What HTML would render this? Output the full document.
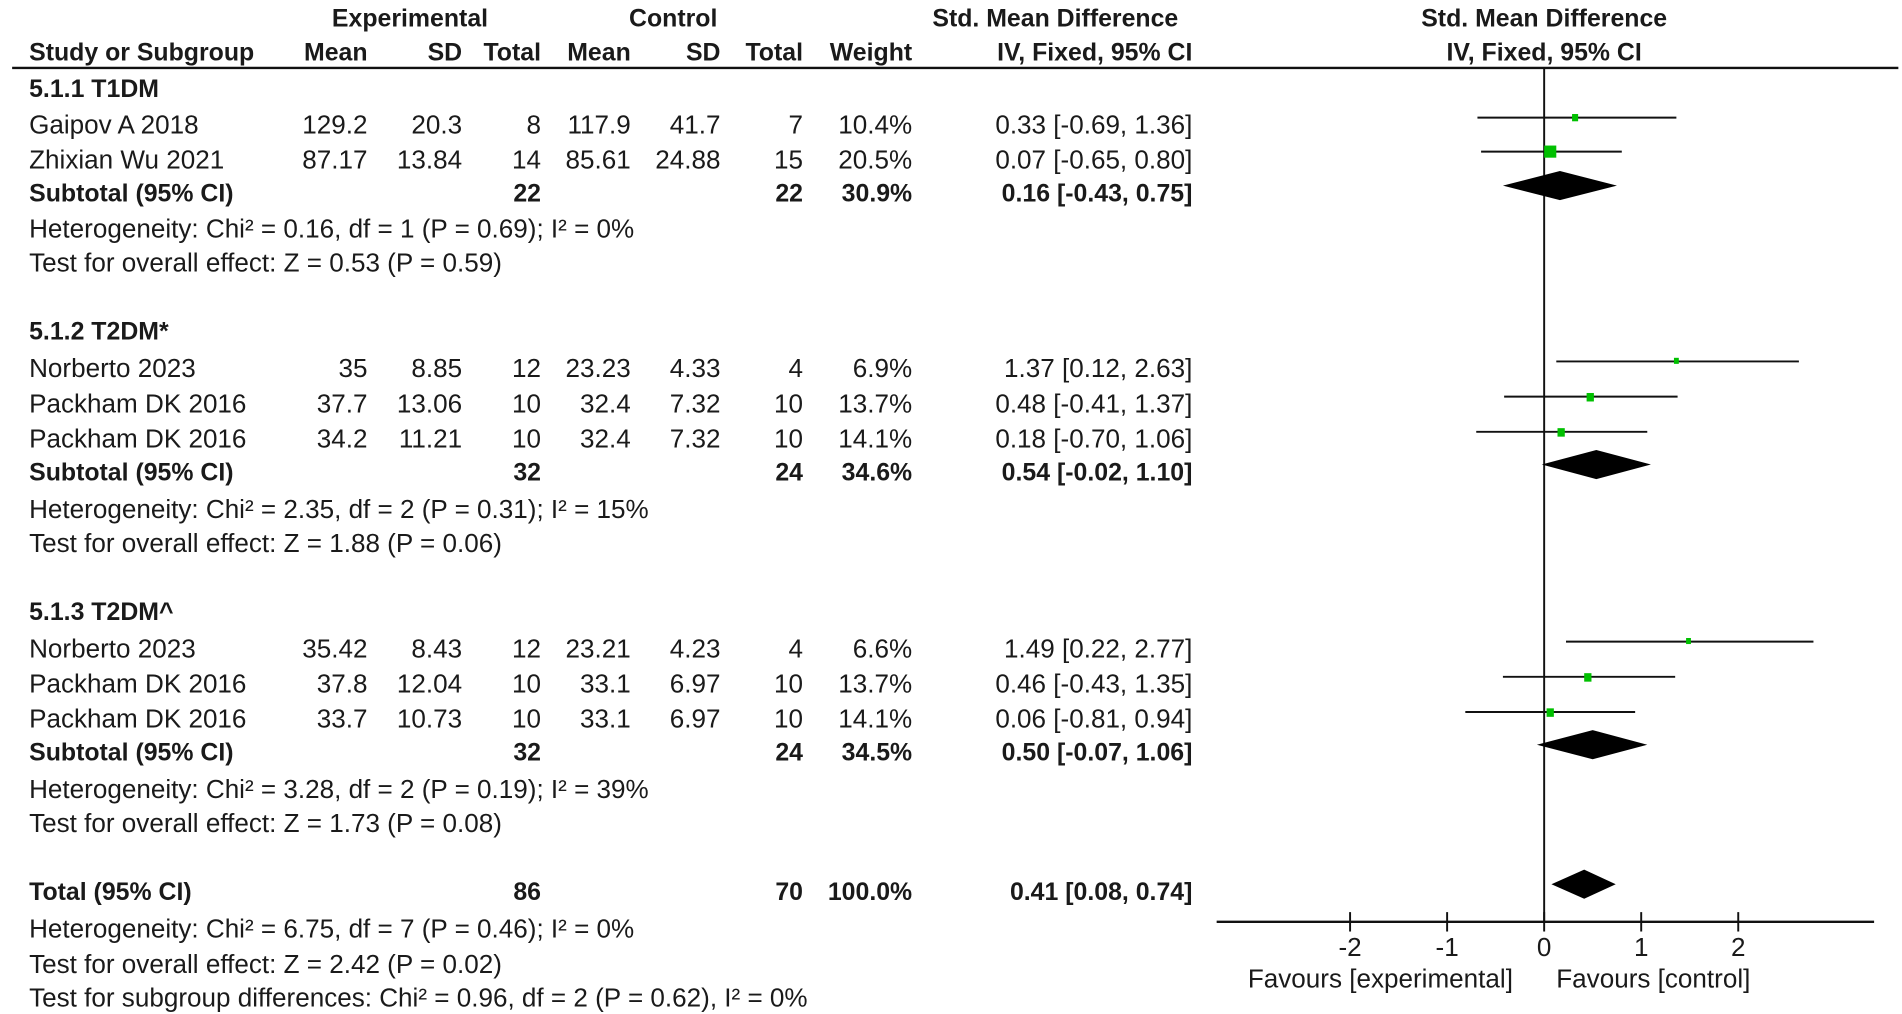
<!DOCTYPE html>
<html><head><meta charset="utf-8"><style>
html,body{margin:0;padding:0;background:#fff;}
svg{display:block;}
text{font-family:"Liberation Sans",Arial,sans-serif;font-size:21.5px;fill:#1a1a1a;}
.b{font-weight:bold;font-size:20.5px;}
.e{text-anchor:end;}
.m{text-anchor:middle;}
</style></head><body>
<svg width="1902" height="1014" viewBox="0 0 1568 836" preserveAspectRatio="none" xmlns="http://www.w3.org/2000/svg">
<rect width="1568" height="836" fill="#fff"/>
<g transform="translate(0,1)">
<text class="b m" x="338" y="21">Experimental</text>
<text class="b m" x="555" y="21">Control</text>
<text class="b m" x="870" y="21">Std. Mean Difference</text>
<text class="b m" x="1273" y="21">Std. Mean Difference</text>
<text class="b" x="24" y="49">Study or Subgroup</text>
<text class="b e" x="303" y="49">Mean</text>
<text class="b e" x="381" y="49">SD</text>
<text class="b e" x="446" y="49">Total</text>
<text class="b e" x="520" y="49">Mean</text>
<text class="b e" x="594" y="49">SD</text>
<text class="b e" x="662" y="49">Total</text>
<text class="b e" x="752" y="49">Weight</text>
<text class="b e" x="983" y="49">IV, Fixed, 95% CI</text>
<text class="b m" x="1273" y="49">IV, Fixed, 95% CI</text>

<text class="b" x="24" y="79">5.1.1 T1DM</text>
<text x="24" y="109">Gaipov A 2018</text><text class="e" x="303" y="109">129.2</text><text class="e" x="381" y="109">20.3</text><text class="e" x="446" y="109">8</text><text class="e" x="520" y="109">117.9</text><text class="e" x="594" y="109">41.7</text><text class="e" x="662" y="109">7</text><text class="e" x="752" y="109">10.4%</text><text class="e" x="983" y="109">0.33 [-0.69, 1.36]</text>
<text x="24" y="138">Zhixian Wu 2021</text><text class="e" x="303" y="138">87.17</text><text class="e" x="381" y="138">13.84</text><text class="e" x="446" y="138">14</text><text class="e" x="520" y="138">85.61</text><text class="e" x="594" y="138">24.88</text><text class="e" x="662" y="138">15</text><text class="e" x="752" y="138">20.5%</text><text class="e" x="983" y="138">0.07 [-0.65, 0.80]</text>
<text class="b" x="24" y="165">Subtotal (95% CI)</text><text class="b e" x="446" y="165">22</text><text class="b e" x="662" y="165">22</text><text class="b e" x="752" y="165">30.9%</text><text class="b e" x="983" y="165">0.16 [-0.43, 0.75]</text>
<text x="24" y="195">Heterogeneity: Chi² = 0.16, df = 1 (P = 0.69); I² = 0%</text>
<text x="24" y="223">Test for overall effect: Z = 0.53 (P = 0.59)</text>

<text class="b" x="24" y="279">5.1.2 T2DM*</text>
<text x="24" y="310">Norberto 2023</text><text class="e" x="303" y="310">35</text><text class="e" x="381" y="310">8.85</text><text class="e" x="446" y="310">12</text><text class="e" x="520" y="310">23.23</text><text class="e" x="594" y="310">4.33</text><text class="e" x="662" y="310">4</text><text class="e" x="752" y="310">6.9%</text><text class="e" x="983" y="310">1.37 [0.12, 2.63]</text>
<text x="24" y="339">Packham DK 2016</text><text class="e" x="303" y="339">37.7</text><text class="e" x="381" y="339">13.06</text><text class="e" x="446" y="339">10</text><text class="e" x="520" y="339">32.4</text><text class="e" x="594" y="339">7.32</text><text class="e" x="662" y="339">10</text><text class="e" x="752" y="339">13.7%</text><text class="e" x="983" y="339">0.48 [-0.41, 1.37]</text>
<text x="24" y="368">Packham DK 2016</text><text class="e" x="303" y="368">34.2</text><text class="e" x="381" y="368">11.21</text><text class="e" x="446" y="368">10</text><text class="e" x="520" y="368">32.4</text><text class="e" x="594" y="368">7.32</text><text class="e" x="662" y="368">10</text><text class="e" x="752" y="368">14.1%</text><text class="e" x="983" y="368">0.18 [-0.70, 1.06]</text>
<text class="b" x="24" y="395">Subtotal (95% CI)</text><text class="b e" x="446" y="395">32</text><text class="b e" x="662" y="395">24</text><text class="b e" x="752" y="395">34.6%</text><text class="b e" x="983" y="395">0.54 [-0.02, 1.10]</text>
<text x="24" y="426">Heterogeneity: Chi² = 2.35, df = 2 (P = 0.31); I² = 15%</text>
<text x="24" y="454">Test for overall effect: Z = 1.88 (P = 0.06)</text>

<text class="b" x="24" y="510">5.1.3 T2DM^</text>
<text x="24" y="541">Norberto 2023</text><text class="e" x="303" y="541">35.42</text><text class="e" x="381" y="541">8.43</text><text class="e" x="446" y="541">12</text><text class="e" x="520" y="541">23.21</text><text class="e" x="594" y="541">4.23</text><text class="e" x="662" y="541">4</text><text class="e" x="752" y="541">6.6%</text><text class="e" x="983" y="541">1.49 [0.22, 2.77]</text>
<text x="24" y="570">Packham DK 2016</text><text class="e" x="303" y="570">37.8</text><text class="e" x="381" y="570">12.04</text><text class="e" x="446" y="570">10</text><text class="e" x="520" y="570">33.1</text><text class="e" x="594" y="570">6.97</text><text class="e" x="662" y="570">10</text><text class="e" x="752" y="570">13.7%</text><text class="e" x="983" y="570">0.46 [-0.43, 1.35]</text>
<text x="24" y="599">Packham DK 2016</text><text class="e" x="303" y="599">33.7</text><text class="e" x="381" y="599">10.73</text><text class="e" x="446" y="599">10</text><text class="e" x="520" y="599">33.1</text><text class="e" x="594" y="599">6.97</text><text class="e" x="662" y="599">10</text><text class="e" x="752" y="599">14.1%</text><text class="e" x="983" y="599">0.06 [-0.81, 0.94]</text>
<text class="b" x="24" y="626">Subtotal (95% CI)</text><text class="b e" x="446" y="626">32</text><text class="b e" x="662" y="626">24</text><text class="b e" x="752" y="626">34.5%</text><text class="b e" x="983" y="626">0.50 [-0.07, 1.06]</text>
<text x="24" y="657">Heterogeneity: Chi² = 3.28, df = 2 (P = 0.19); I² = 39%</text>
<text x="24" y="685">Test for overall effect: Z = 1.73 (P = 0.08)</text>

<text class="b" x="24" y="741">Total (95% CI)</text><text class="b e" x="446" y="741">86</text><text class="b e" x="662" y="741">70</text><text class="b e" x="752" y="741">100.0%</text><text class="b e" x="983" y="741">0.41 [0.08, 0.74]</text>
<text x="24" y="772">Heterogeneity: Chi² = 6.75, df = 7 (P = 0.46); I² = 0%</text>
<text x="24" y="801">Test for overall effect: Z = 2.42 (P = 0.02)</text>
<text x="24" y="829">Test for subgroup differences: Chi² = 0.96, df = 2 (P = 0.62), I² = 0%</text>
</g>
<line x1="10" y1="56" x2="1565" y2="56" stroke="#111" stroke-width="2"/>

<g stroke="#111" stroke-width="1.6">
<line x1="1273" y1="56" x2="1273" y2="760"/>
<line x1="1003" y1="760" x2="1545" y2="760" stroke-width="2"/>
<line x1="1113" y1="752" x2="1113" y2="768"/>
<line x1="1193" y1="752" x2="1193" y2="768"/>
<line x1="1273" y1="752" x2="1273" y2="768"/>
<line x1="1353" y1="752" x2="1353" y2="768"/>
<line x1="1433" y1="752" x2="1433" y2="768"/>
<line x1="1218" y1="97" x2="1382" y2="97"/>
<line x1="1221" y1="125" x2="1337" y2="125"/>
<line x1="1283" y1="298" x2="1483" y2="298"/>
<line x1="1240" y1="327" x2="1383" y2="327"/>
<line x1="1217" y1="356" x2="1358" y2="356"/>
<line x1="1291" y1="529" x2="1495" y2="529"/>
<line x1="1239" y1="558" x2="1381" y2="558"/>
<line x1="1208" y1="587" x2="1348" y2="587"/>
</g>
<g fill="#00c000">
<rect x="1296" y="94" width="5" height="6"/>
<rect x="1273" y="120" width="10" height="10"/>
<rect x="1380" y="295" width="4" height="5"/>
<rect x="1308" y="324" width="6" height="7"/>
<rect x="1284" y="353" width="6" height="7"/>
<rect x="1390" y="526" width="4" height="5"/>
<rect x="1306" y="555" width="6" height="7"/>
<rect x="1275" y="584" width="6" height="7"/>
</g>
<g fill="#000">
<polygon points="1239,153 1286,141 1333,153 1286,165"/>
<polygon points="1271,383 1316,371 1361,383 1316,395"/>
<polygon points="1267,614 1313,602 1358,614 1313,626"/>
<polygon points="1279,729 1306,717 1332,729 1306,741"/>
</g>
<text class="m" x="1113" y="788">-2</text>
<text class="m" x="1193" y="788">-1</text>
<text class="m" x="1273" y="788">0</text>
<text class="m" x="1353" y="788">1</text>
<text class="m" x="1433" y="788">2</text>
<text class="m" x="1138" y="814">Favours [experimental]</text>
<text class="m" x="1363" y="814">Favours [control]</text>
</svg>
</body></html>
